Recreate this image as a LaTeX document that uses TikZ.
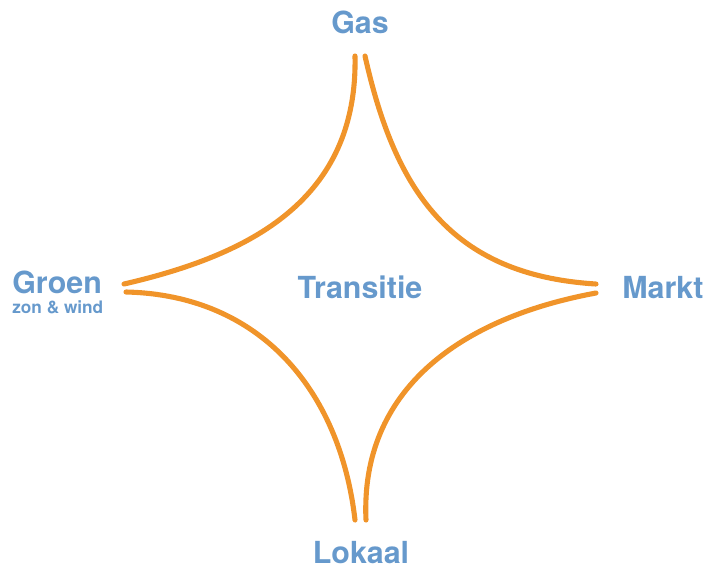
\documentclass[tikz,border=0pt]{standalone}
\usepackage{fontspec}
\setmainfont{TeX Gyre Heros}
\usepackage{tikz}
\usetikzlibrary{positioning}

\definecolor{labelblue}{HTML}{6699CC}
\definecolor{arcorange}{HTML}{F0942A}

\tikzset{
  label/.style={text=labelblue, font=\bfseries\fontsize{17.3}{20}\selectfont, inner sep=0pt, anchor=base},
  sublabel/.style={text=labelblue, font=\bfseries\fontsize{9.8}{12}\selectfont, inner sep=0pt, anchor=base west},
  arc/.style={draw=arcorange, line width=2.9pt, line cap=round}
}

\begin{document}
\begin{tikzpicture}[x=0.02cm, y=-0.02cm]
  \useasboundingbox (0,0) rectangle (706,569);

  \node[label] (gas) at (360,33) {Gas};
  \node[label, anchor=base west] (groen) at (12,293) {Groen};
  \node[sublabel] (zon) at (12,313) {zon \& wind};
  \node[label, anchor=base west] (markt) at (622,298) {Markt};
  \node[label] (lokaal) at (361,563) {Lokaal};
  \node[label] (transitie) at (360,298) {Transitie};

  % end points of the four arcs
  \coordinate (gasL) at (355,56);
  \coordinate (gasR) at (365,56);
  \coordinate (groenT) at (124,284);
  \coordinate (groenB) at (126,292);
  \coordinate (marktT) at (596,284);
  \coordinate (marktB) at (596,293);
  \coordinate (lokaalL) at (355,520);
  \coordinate (lokaalR) at (366,520);

  \draw[arc] (gasL) .. controls (358,200) and (250,255) .. (groenT);
  \draw[arc] (gasR) .. controls (395,190) and (450,275) .. (marktT);
  \draw[arc] (groenB) .. controls (260,295) and (340,390) .. (lokaalL);
  \draw[arc] (marktB) .. controls (460,318) and (360,390) .. (lokaalR);
\end{tikzpicture}
\end{document}
